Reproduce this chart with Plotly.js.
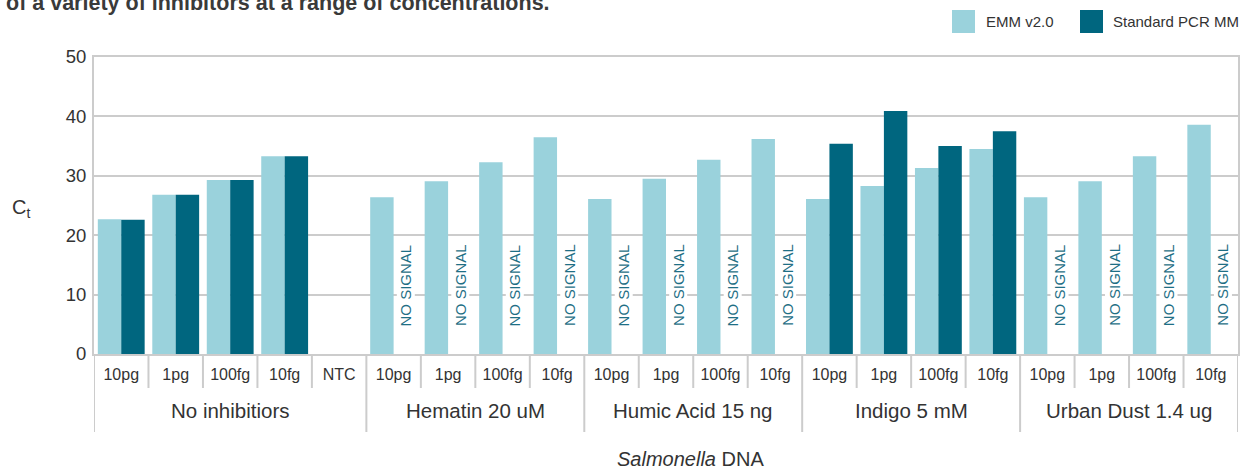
<!DOCTYPE html>
<html>
<head>
<meta charset="utf-8">
<script src="https://cdn.plot.ly/plotly-3.0.1.min.js"></script>
<style>
  html, body { margin: 0; padding: 0; background: #ffffff; }
  #chart { width: 1242px; height: 470px; }
</style>
</head>
<body>
<div id="chart"></div>
<script>
// ---- data ----
const groups = ['No inhibitiors', 'No inhibitiors', 'No inhibitiors', 'No inhibitiors', 'No inhibitiors',
  'Hematin 20 uM', 'Hematin 20 uM', 'Hematin 20 uM', 'Hematin 20 uM',
  'Humic Acid 15 ng', 'Humic Acid 15 ng', 'Humic Acid 15 ng', 'Humic Acid 15 ng',
  'Indigo 5 mM', 'Indigo 5 mM', 'Indigo 5 mM', 'Indigo 5 mM',
  'Urban Dust 1.4 ug', 'Urban Dust 1.4 ug', 'Urban Dust 1.4 ug', 'Urban Dust 1.4 ug'];
const amounts = ['10pg', '1pg', '100fg', '10fg', 'NTC',
  '10pg', '1pg', '100fg', '10fg',
  '10pg', '1pg', '100fg', '10fg',
  '10pg', '1pg', '100fg', '10fg',
  '10pg', '1pg', '100fg', '10fg'];
const emmValues = [22.7, 26.8, 29.3, 33.3, null,
  26.4, 29.1, 32.3, 36.5,
  26.1, 29.5, 32.7, 36.2,
  26.1, 28.3, 31.3, 34.5,
  26.4, 29.1, 33.3, 38.6];
const stdValues = [22.6, 26.8, 29.3, 33.3, null,
  null, null, null, null,
  null, null, null, null,
  35.4, 40.9, 35.0, 37.5,
  null, null, null, null];
const noSignal = [false, false, false, false, false,
  true, true, true, true,
  true, true, true, true,
  false, false, false, false,
  true, true, true, true];
const seriesNames = ['EMM v2.0', 'Standard PCR MM'];
const yTickVals = [0, 10, 20, 30, 40, 50];
const noSignalText = 'NO SIGNAL';
const titleText = 'of a variety of inhibitors at a range of concentrations.';
const xTitleText = '<i>Salmonella</i> DNA';
const yTitleText = 'C<sub>t</sub>';

// ---- styles ----
const colEMM = '#9ad2dc';
const colStd = '#00667f';
const gridCol = '#cccccc';
const textCol = '#333333';
const FONT = 'Liberation Sans, Arial, sans-serif';
const bargap = 0.14;

const ids = groups.map((g, i) => g + '|' + amounts[i]);

const traces = [
  { type: 'bar', name: seriesNames[0], x: ids, y: emmValues, marker: { color: colEMM }, hoverinfo: 'y' },
  { type: 'bar', name: seriesNames[1], x: ids, y: stdValues, marker: { color: colStd }, hoverinfo: 'y' }
];

// plot geometry in px (for paper conversions)
const L = 94, R = 4, T = 57, B = 116, W = 1242, H = 470;
const pw = W - L - R, ph = H - T - B;
const px2x = p => (p - L) / pw;
const py2y = p => (H - B - p) / ph;

const shapes = [];
const annotations = [];

// separators between categories
const uniqGroups = [];
groups.forEach(g => { if (!uniqGroups.includes(g)) uniqGroups.push(g); });
for (let i = 0; i <= ids.length; i++) {
  const isGroupEdge = i === 0 || i === ids.length || groups[i] !== groups[i - 1];
  shapes.push({
    type: 'line', xref: 'x', yref: 'paper',
    x0: i - 0.5, x1: i - 0.5, y0: 0, y1: isGroupEdge ? py2y(432) : py2y(388),
    line: { color: gridCol, width: 2 }
  });
}
// group labels
uniqGroups.forEach(g => {
  const idx = groups.map((gg, i) => gg === g ? i : -1).filter(i => i >= 0);
  const mid = (idx[0] + idx[idx.length - 1]) / 2;
  annotations.push({
    xref: 'x', yref: 'paper', x: mid, y: py2y(411), text: g, showarrow: false,
    xanchor: 'center', yanchor: 'middle', font: { family: FONT, size: 20.5, color: textCol }
  });
});
// NO SIGNAL labels
noSignal.forEach((ns, i) => {
  if (!ns) return;
  annotations.push({
    xref: 'x', yref: 'y', x: i, y: 11.6, text: noSignalText, textangle: -90, showarrow: false,
    xshift: 11.8, xanchor: 'center', yanchor: 'middle', bgcolor: '#ffffff', borderpad: 0,
    font: { family: FONT, size: 15, color: '#1f6f85' }
  });
});
// axis titles
annotations.push({
  xref: 'paper', yref: 'paper', x: px2x(690), y: py2y(459), text: xTitleText, showarrow: false,
  xanchor: 'center', yanchor: 'middle', font: { family: FONT, size: 20, color: textCol }
});
annotations.push({
  xref: 'paper', yref: 'paper', x: px2x(21), y: py2y(208), text: yTitleText, showarrow: false,
  xanchor: 'center', yanchor: 'middle', font: { family: FONT, size: 20, color: textCol }
});
// title (cut off at the top edge, as in the source image)
annotations.push({
  xref: 'paper', yref: 'paper', x: px2x(4), y: py2y(3.5), text: '<b>' + titleText + '</b>', showarrow: false,
  xanchor: 'left', yanchor: 'middle', font: { family: FONT, size: 21.5, color: '#3a3a3a' }
});
// legend keys
const legendKeys = [
  { x0: 952, x1: 975, tx: 984, color: colEMM },
  { x0: 1080, x1: 1103, tx: 1111, color: colStd }
];
legendKeys.forEach((k, i) => {
  shapes.push({
    type: 'rect', xref: 'paper', yref: 'paper',
    x0: px2x(k.x0), x1: px2x(k.x1), y0: py2y(33), y1: py2y(10),
    fillcolor: k.color, line: { width: 0 }
  });
  annotations.push({
    xref: 'paper', yref: 'paper', x: px2x(k.tx), y: py2y(21.5), text: seriesNames[i], showarrow: false,
    xanchor: 'left', yanchor: 'middle', font: { family: FONT, size: 15, color: textCol }
  });
});

const layout = {
  width: W, height: H,
  margin: { l: L, r: R, t: T, b: B, pad: 0 },
  paper_bgcolor: '#ffffff', plot_bgcolor: '#ffffff',
  barmode: 'group', bargap: bargap, bargroupgap: 0,
  showlegend: false,
  font: { family: FONT, color: textCol },
  xaxis: {
    type: 'category', tickvals: ids, ticktext: amounts,
    range: [-0.5, ids.length - 0.5],
    showgrid: false, showline: true, mirror: true, linecolor: gridCol, linewidth: 2,
    ticks: '', ticklabelstandoff: 5,
    tickfont: { family: FONT, size: 16, color: textCol },
    fixedrange: true
  },
  yaxis: {
    range: [0, 50], tickvals: yTickVals,
    showgrid: true, gridcolor: gridCol, gridwidth: 2,
    showline: true, mirror: true, linecolor: gridCol, linewidth: 2,
    zeroline: false, ticks: '', ticklabelstandoff: 2,
    tickfont: { family: FONT, size: 18.5, color: textCol },
    fixedrange: true
  },
  shapes: shapes,
  annotations: annotations
};

Plotly.newPlot('chart', traces, layout, { displayModeBar: false, staticPlot: true });
</script>
</body>
</html>
